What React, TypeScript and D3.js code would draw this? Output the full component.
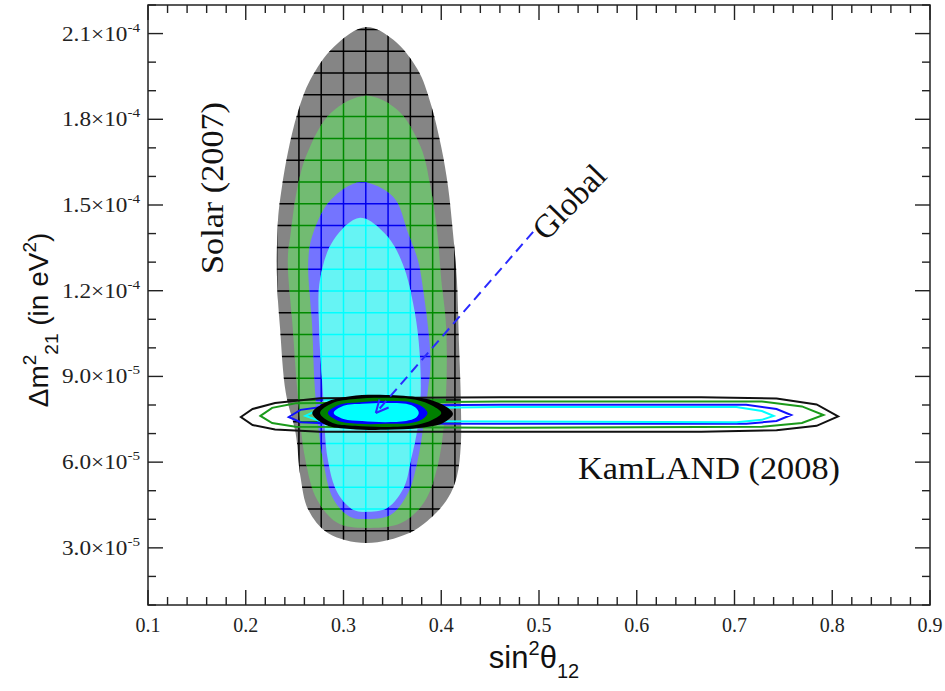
import * as d3 from 'd3';
import {useEffect, useRef} from 'react';

const width = 945;
const height = 691;

// sin^2(theta12) vs dm^2_21 (in units of 1e-5 eV^2)
const solarGray = [
  [0.323, 21.23], [0.351, 20.78], [0.376, 19.73], [0.389, 18.57], [0.4, 17.03],
  [0.407, 15.63], [0.412, 14.02], [0.416, 12.38], [0.418, 10.28], [0.42, 8.18],
  [0.42, 6.6], [0.416, 5.5], [0.407, 4.75], [0.391, 4.1], [0.366, 3.5],
  [0.323, 3.17], [0.284, 3.52], [0.264, 4.33], [0.256, 5.48], [0.251, 7.02],
  [0.241, 8.42], [0.235, 10.73], [0.232, 12.38], [0.233, 14.48], [0.237, 15.63],
  [0.243, 16.82], [0.253, 18.22], [0.266, 19.38], [0.29, 20.53],
];
const solarGreen = [
  [0.323, 18.82], [0.355, 18.33], [0.379, 17.03], [0.389, 15.63], [0.396, 14.02],
  [0.4, 12.38], [0.405, 10.73], [0.404, 7.83], [0.396, 5.83], [0.382, 4.57],
  [0.359, 3.87], [0.323, 3.7], [0.294, 3.87], [0.273, 4.68], [0.261, 6.08],
  [0.253, 8.42], [0.248, 10.73], [0.243, 13.08], [0.246, 14.02], [0.253, 15.63],
  [0.263, 16.82], [0.287, 18.22],
];
const solarBlue = [
  [0.317, 15.8], [0.351, 15.28], [0.366, 14.02], [0.376, 13.08], [0.382, 11.92],
  [0.389, 9.58], [0.386, 8.42], [0.376, 6.08], [0.366, 4.92], [0.348, 4.15],
  [0.323, 4.01], [0.307, 4.08], [0.29, 4.68], [0.279, 6.08], [0.271, 8.42],
  [0.268, 10.73], [0.264, 13.08], [0.269, 14.02], [0.287, 15.18],
];
const solarCyan = [
  [0.317, 14.55], [0.345, 13.9], [0.361, 12.9], [0.371, 11.6], [0.377, 10.2],
  [0.379, 8.42], [0.376, 7.23], [0.369, 6.08], [0.362, 5.13], [0.345, 4.4],
  [0.323, 4.26], [0.31, 4.33], [0.294, 4.92], [0.284, 6.08], [0.279, 8.42],
  [0.275, 10.73], [0.276, 12.4], [0.29, 13.78],
];

const kamBlack = [
  [0.195, 7.58], [0.207, 7.86], [0.23, 8.07], [0.276, 8.24], [0.461, 8.27],
  [0.666, 8.27], [0.743, 8.23], [0.784, 8.02], [0.806, 7.6], [0.784, 7.27],
  [0.743, 7.12], [0.666, 7.06], [0.461, 7.06], [0.276, 7.06], [0.23, 7.14], [0.207, 7.3],
];
const kamGreen = [
  [0.215, 7.62], [0.227, 7.9], [0.251, 8.06], [0.461, 8.12], [0.728, 8.12],
  [0.769, 7.95], [0.791, 7.65], [0.769, 7.37], [0.728, 7.24], [0.461, 7.2],
  [0.251, 7.24], [0.227, 7.37],
];
const kamBlue = [
  [0.244, 7.58], [0.256, 7.83], [0.287, 7.97], [0.461, 8.01], [0.712, 8.01],
  [0.743, 7.86], [0.758, 7.65], [0.743, 7.44], [0.712, 7.34], [0.461, 7.34],
  [0.287, 7.35], [0.256, 7.4],
];
const kamCyan = [
  [0.261, 7.62], [0.276, 7.86], [0.461, 7.93], [0.702, 7.93], [0.728, 7.79],
  [0.74, 7.62], [0.728, 7.48], [0.702, 7.4], [0.461, 7.42], [0.276, 7.44],
];

const globalBlack = [
  [0.268, 7.72], [0.282, 8.1], [0.307, 8.31], [0.343, 8.35], [0.379, 8.25],
  [0.402, 8.0], [0.412, 7.69], [0.402, 7.37], [0.379, 7.2], [0.343, 7.13],
  [0.307, 7.16], [0.282, 7.3],
];
const globalGreen = [
  [0.276, 7.72], [0.289, 8.07], [0.312, 8.21], [0.343, 8.25], [0.374, 8.18],
  [0.391, 7.97], [0.4, 7.72], [0.391, 7.48], [0.374, 7.3], [0.343, 7.23],
  [0.312, 7.27], [0.289, 7.37],
];
const globalBlue = [
  [0.284, 7.72], [0.295, 8.0], [0.317, 8.1], [0.343, 8.14], [0.369, 8.1],
  [0.381, 7.93], [0.386, 7.72], [0.381, 7.51], [0.369, 7.37], [0.343, 7.34],
  [0.317, 7.34], [0.295, 7.44],
];
const globalCyan = [
  [0.29, 7.72], [0.3, 7.97], [0.319, 8.04], [0.343, 8.07], [0.364, 8.04],
  [0.374, 7.9], [0.377, 7.72], [0.374, 7.55], [0.364, 7.44], [0.343, 7.4],
  [0.319, 7.44], [0.3, 7.51],
];

const arrowFrom = [0.494, 14.06];
const arrowTo = [0.333, 7.72];

const xTicks = [0.1, 0.2, 0.3, 0.4, 0.5, 0.6, 0.7, 0.8, 0.9];
const xTickLabels = ['0.1', '0.2', '0.3', '0.4', '0.5', '0.6', '0.7', '0.8', '0.9'];
const yTicks = [3, 6, 9, 12, 15, 18, 21];
const yTickMant = ['3.0', '6.0', '9.0', '1.2', '1.5', '1.8', '2.1'];
const yTickExp = ['-5', '-5', '-5', '-4', '-4', '-4', '-4'];

// hatch grid drawn over the solar regions
const gridStepX = 0.0228;
const gridStepY = 0.763;

const layers = [
  {pts: solarGray, fill: '#858585', grid: '#000000', id: 'cl-gray'},
  {pts: solarGreen, fill: '#72bb72', grid: '#008a00', id: 'cl-green'},
  {pts: solarBlue, fill: '#7474ff', grid: '#0000ee', id: 'cl-blue'},
  {pts: solarCyan, fill: '#66f4f4', grid: '#00ffff', id: 'cl-cyan'},
];

function App() {
  const ref = useRef(null);

  useEffect(() => {
    const x = d3.scaleLinear().domain([0.1, 0.9]).range([148, 930]);
    const y = d3.scaleLinear().domain([1, 22]).range([605, 5]);

    const svg = d3
      .select(ref.current)
      .append('svg')
      .attr('width', width)
      .attr('height', height)
      .style('position', 'absolute')
      .style('left', '0px')
      .style('top', '0px')
      .style('background', '#fff');

    const smooth = d3.line().x(d => x(d[0])).y(d => y(d[1])).curve(d3.curveCatmullRomClosed);
    const poly = d3.line().x(d => x(d[0])).y(d => y(d[1])).curve(d3.curveLinearClosed);

    const defs = svg.append('defs');
    layers.forEach(l => {
      defs.append('clipPath').attr('id', l.id).append('path').attr('d', smooth(l.pts));
    });

    const gxs = d3.range(-5, 7).map(k => 0.3 + k * gridStepX);
    const gys = d3.range(-8, 20).map(k => 8.175 + k * gridStepY);

    layers.forEach(l => {
      svg.append('path').attr('d', smooth(l.pts)).attr('fill', l.fill);
      const g = svg.append('g').attr('clip-path', `url(#${l.id})`);
      g.selectAll('.v')
        .data(gxs)
        .enter()
        .append('line')
        .attr('x1', d => x(d))
        .attr('x2', d => x(d))
        .attr('y1', y(22))
        .attr('y2', y(1))
        .attr('stroke', l.grid)
        .attr('stroke-width', 1.5);
      g.selectAll('.h')
        .data(gys)
        .enter()
        .append('line')
        .attr('x1', x(0.2))
        .attr('x2', x(0.45))
        .attr('y1', d => y(d))
        .attr('y2', d => y(d))
        .attr('stroke', l.grid)
        .attr('stroke-width', 1.5);
    });

    // KamLAND contours (lines)
    [
      [kamBlack, '#111'],
      [kamGreen, '#1a9a1a'],
      [kamBlue, '#1010ff'],
      [kamCyan, '#00ffff'],
    ].forEach(([pts, c]) => {
      svg
        .append('path')
        .attr('d', poly(pts))
        .attr('fill', 'none')
        .attr('stroke', c)
        .attr('stroke-width', 2);
    });

    // global fit (filled)
    [
      [globalBlack, '#000'],
      [globalGreen, '#008000'],
      [globalBlue, '#0000ff'],
      [globalCyan, '#00ffff'],
    ].forEach(([pts, c]) => {
      svg.append('path').attr('d', smooth(pts)).attr('fill', c);
    });

    // dashed arrow
    const ax0 = x(arrowFrom[0]);
    const ay0 = y(arrowFrom[1]);
    const ax1 = x(arrowTo[0]);
    const ay1 = y(arrowTo[1]);
    svg
      .append('line')
      .attr('x1', ax0)
      .attr('y1', ay0)
      .attr('x2', ax1)
      .attr('y2', ay1)
      .attr('stroke', '#2a2aff')
      .attr('stroke-width', 2)
      .attr('stroke-dasharray', '10,6');
    const ang = Math.atan2(ay0 - ay1, ax0 - ax1);
    [-0.45, 0.45].forEach(da => {
      svg
        .append('line')
        .attr('x1', ax1)
        .attr('y1', ay1)
        .attr('x2', ax1 + 14 * Math.cos(ang + da))
        .attr('y2', ay1 + 14 * Math.sin(ang + da))
        .attr('stroke', '#2a2aff')
        .attr('stroke-width', 2);
    });

    // frame and ticks
    svg
      .append('rect')
      .attr('x', 148)
      .attr('y', 5)
      .attr('width', 930 - 148)
      .attr('height', 600)
      .attr('fill', 'none')
      .attr('stroke', '#222')
      .attr('stroke-width', 1.5);

    const xMinor = d3.range(0.1, 0.9001, 0.02);
    const yMinor = d3.range(1, 22.001, 1);
    const tk = svg.append('g').attr('stroke', '#222').attr('stroke-width', 1.4);
    xMinor.forEach(v => {
      const major = xTicks.some(t => Math.abs(t - v) < 1e-6);
      const len = major ? 15 : 8;
      tk.append('line').attr('x1', x(v)).attr('x2', x(v)).attr('y1', 605).attr('y2', 605 - len);
      tk.append('line').attr('x1', x(v)).attr('x2', x(v)).attr('y1', 5).attr('y2', 5 + len);
    });
    yMinor.forEach(v => {
      const major = yTicks.some(t => Math.abs(t - v) < 1e-6);
      const len = major ? 15 : 8;
      tk.append('line').attr('x1', 148).attr('x2', 148 + len).attr('y1', y(v)).attr('y2', y(v));
      tk.append('line').attr('x1', 930).attr('x2', 930 - len).attr('y1', y(v)).attr('y2', y(v));
    });

    const serif = 'Liberation Serif, Times New Roman, serif';
    const sans = 'Liberation Sans, Arial, sans-serif';

    svg
      .selectAll('.xl')
      .data(xTicks)
      .enter()
      .append('text')
      .attr('x', d => x(d))
      .attr('y', 632)
      .attr('text-anchor', 'middle')
      .attr('font-family', serif)
      .attr('font-size', 20)
      .attr('fill', '#222')
      .text((d, i) => xTickLabels[i]);

    yTicks.forEach((v, i) => {
      const t = svg
        .append('text')
        .attr('x', 62)
        .attr('y', y(v) + 7)
        .attr('font-family', serif)
        .attr('font-size', 20)
        .attr('textLength', 78)
        .attr('lengthAdjust', 'spacingAndGlyphs')
        .attr('fill', '#222');
      t.append('tspan').text(`${yTickMant[i]}\u00d710`);
      t.append('tspan').attr('dy', -9).attr('font-size', 13).text(yTickExp[i]);
    });

    // axis titles
    const xt = svg
      .append('text')
      .attr('x', 534)
      .attr('y', 668)
      .attr('text-anchor', 'middle')
      .attr('font-family', sans)
      .attr('font-size', 31)
      .attr('fill', '#111');
    xt.append('tspan').text('sin');
    xt.append('tspan').attr('dy', -13).attr('font-size', 20).text('2');
    xt.append('tspan').attr('dy', 13).text('\u03b8');
    xt.append('tspan').attr('dy', 10).attr('font-size', 20).text('12');

    const yt = svg
      .append('text')
      .attr('transform', 'translate(48,320) rotate(-90)')
      .attr('text-anchor', 'middle')
      .attr('font-family', sans)
      .attr('font-size', 28)
      .attr('fill', '#111');
    yt.append('tspan').text('\u0394m');
    yt.append('tspan').attr('dy', -12).attr('font-size', 19).text('2');
    yt.append('tspan').attr('dy', 22).attr('font-size', 19).text('21');
    yt.append('tspan').attr('dy', -10).text(' (in eV');
    yt.append('tspan').attr('dy', -12).attr('font-size', 19).text('2');
    yt.append('tspan').attr('dy', 12).text(')');

    // annotations
    svg
      .append('text')
      .attr('transform', 'translate(223,188) rotate(-90)')
      .attr('text-anchor', 'middle')
      .attr('font-family', serif)
      .attr('font-size', 32)
      .attr('textLength', 172)
      .attr('lengthAdjust', 'spacingAndGlyphs')
      .attr('fill', '#111')
      .text('Solar (2007)');

    svg
      .append('text')
      .attr('x', 578)
      .attr('y', 479)
      .attr('font-family', serif)
      .attr('font-size', 31)
      .attr('textLength', 262)
      .attr('lengthAdjust', 'spacingAndGlyphs')
      .attr('fill', '#111')
      .text('KamLAND (2008)');

    svg
      .append('text')
      .attr('transform', 'translate(546,242) rotate(-46)')
      .attr('font-family', serif)
      .attr('font-size', 33)
      .attr('fill', '#111')
      .text('Global');

    return () => svg.remove();
  }, []);

  return <div ref={ref}></div>;
}

export default App;
